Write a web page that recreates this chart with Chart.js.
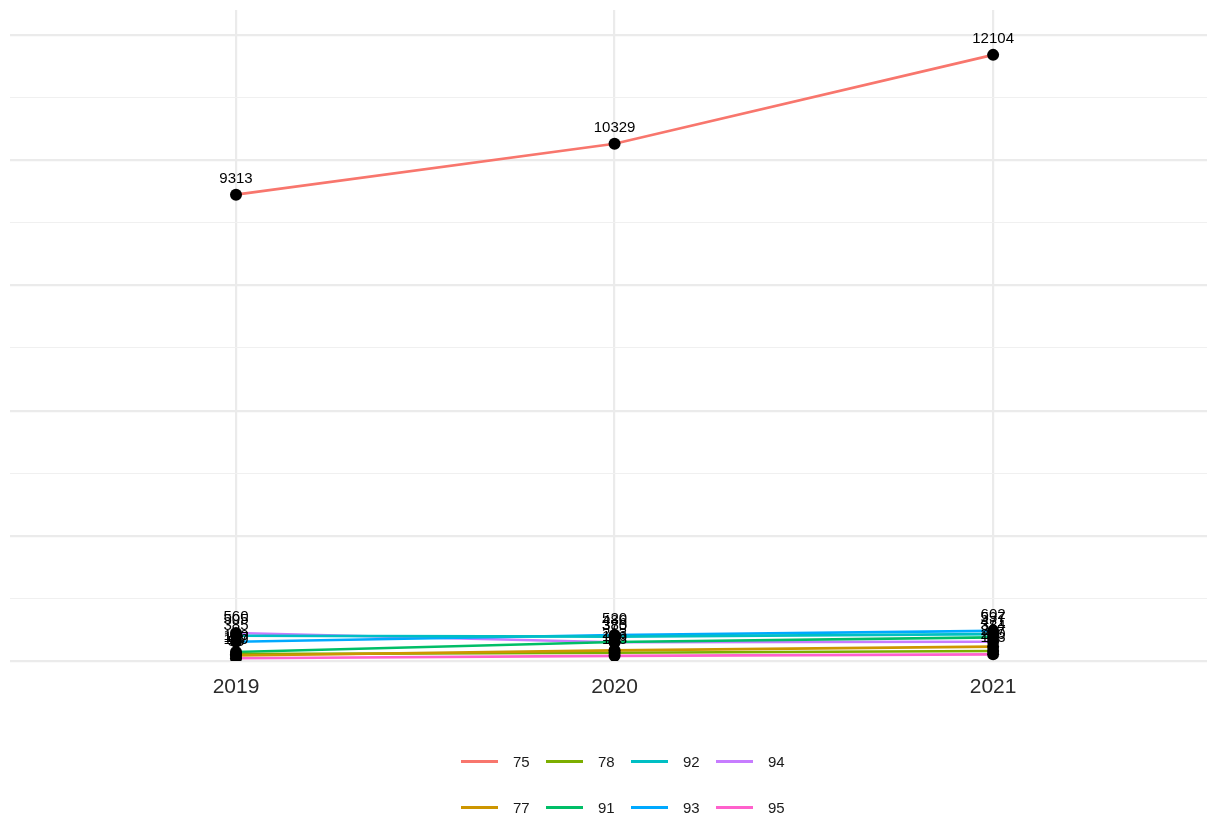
<!DOCTYPE html>
<html>
<head>
<meta charset="utf-8">
<script src="https://cdn.jsdelivr.net/npm/chart.js@4.4.1/dist/chart.umd.min.js"></script>
<style>
  html, body { margin: 0; padding: 0; background: #ffffff; overflow: hidden; }
  #wrap { position: relative; width: 1207px; height: 817px; overflow: hidden; }
  #c { position: absolute; left: 0; top: 0; }
  #legend { position: absolute; left: 461px; top: 748px; display: grid;
            grid-template-columns: repeat(4, 85px); grid-auto-flow: column;
            grid-template-rows: 46px 46px; }
  .item { display: flex; align-items: center; height: 26px; font-family: "Liberation Sans", Arial, sans-serif;
          font-size: 15px; color: #1a1a1a; }
  .key { width: 37px; height: 3px; margin-right: 15px; }
</style>
</head>
<body>
<div id="wrap">
  <canvas id="c" width="1213" height="817"></canvas>
  <div id="legend"></div>
</div>
<script>
const years = ['2019', '2020', '2021'];
const seriesNames = ['75', '77', '78', '91', '92', '93', '94', '95'];
const seriesColors = ['#F8766D', '#CD9600', '#7CAE00', '#00BE67', '#00BFC4', '#00A9FF', '#C77CFF', '#FF61CC'];
const s75 = [9313, 10329, 12104];
const s77 = [109, 213, 287];
const s78 = [137, 166, 200];
const s91 = [180, 380, 471];
const s92 = [505, 486, 537];
const s93 = [385, 520, 602];
const s94 = [560, 375, 384];
const s95 = [55, 103, 133];
const seriesValues = [s75, s77, s78, s91, s92, s93, s94, s95];
const yTicks = [0, 1250, 2500, 3750, 5000, 6250, 7500, 8750, 10000, 11250, 12500];

const FONT = '"Liberation Sans", Arial, sans-serif';

const lineSets = seriesNames.map((name, i) => ({
  label: name,
  data: seriesValues[i].map((v, j) => ({ x: j, y: v })),
  borderColor: seriesColors[i],
  backgroundColor: seriesColors[i],
  borderWidth: 2.6,
  pointRadius: 0,
  showLine: true,
  fill: false,
  order: 2,
  isLine: true
}));
const pointSets = seriesNames.map((name, i) => ({
  label: name + ' pts',
  data: seriesValues[i].map((v, j) => ({ x: j, y: v })),
  borderColor: '#000000',
  backgroundColor: '#000000',
  pointRadius: 6,
  pointBorderWidth: 0,
  showLine: false,
  order: 1,
  isLine: false
}));

const labelPlugin = {
  id: 'valueLabels',
  afterDatasetsDraw(chart) {
    const ctx = chart.ctx;
    ctx.save();
    ctx.font = '15px ' + FONT;
    ctx.fillStyle = '#000000';
    ctx.textAlign = 'center';
    ctx.textBaseline = 'middle';
    chart.data.datasets.forEach((ds, di) => {
      if (!ds.isLine) return;
      const meta = chart.getDatasetMeta(di);
      meta.data.forEach((pt, j) => {
        ctx.fillText(String(ds.data[j].y), pt.x, pt.y - 16);
      });
    });
    ctx.restore();
  }
};

new Chart(document.getElementById('c'), {
  type: 'scatter',
  data: { datasets: lineSets.concat(pointSets) },
  options: {
    responsive: false,
    animation: false,
    layout: { padding: { left: 10, right: 0, top: 10, bottom: 116 } },
    plugins: { legend: { display: false }, tooltip: { enabled: false } },
    scales: {
      x: {
        type: 'linear',
        min: -0.597,
        max: 2.565,
        afterBuildTicks: (s) => { s.ticks = years.map((y, i) => ({ value: i })); },
        afterFit: (s) => { s.height = 40; },
        border: { display: false },
        grid: { color: '#EBEBEB', lineWidth: 2.2, drawTicks: false },
        ticks: {
          callback: (v) => years[v],
          font: { family: FONT, size: 21 },
          color: '#2b2b2b',
          padding: 14,
          maxRotation: 0
        }
      },
      y: {
        type: 'linear',
        min: 0,
        max: 13000,
        afterBuildTicks: (s) => { s.ticks = yTicks.map(v => ({ value: v })); },
        afterFit: (s) => { s.width = 0; },
        border: { display: false },
        grid: {
          drawTicks: false,
          color: (c) => (c.tick && c.tick.value % 2500 === 0) ? '#EBEBEB' : '#F0F0F0',
          lineWidth: (c) => (c.tick && c.tick.value % 2500 === 0) ? 2.2 : 1.1
        },
        ticks: { display: false }
      }
    }
  },
  plugins: [labelPlugin]
});

const legend = document.getElementById('legend');
seriesNames.forEach((name, i) => {
  const item = document.createElement('div');
  item.className = 'item';
  const key = document.createElement('span');
  key.className = 'key';
  key.style.background = seriesColors[i];
  const txt = document.createElement('span');
  txt.textContent = name;
  item.appendChild(key);
  item.appendChild(txt);
  legend.appendChild(item);
});
</script>
</body>
</html>
